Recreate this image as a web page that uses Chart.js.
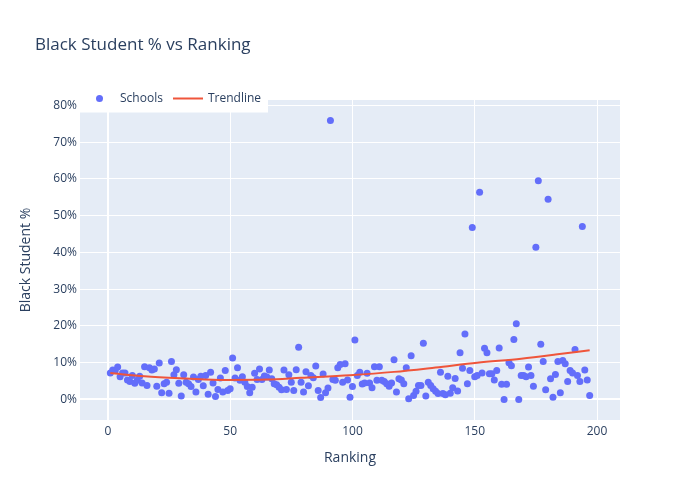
<!DOCTYPE html>
<html lang="en">

<head>
    <meta charset="UTF-8">
    <title>Black Student % vs Ranking</title>
    <script src="https://cdn.jsdelivr.net/npm/chart.js@4.4.1/dist/chart.umd.min.js"></script>
    <style>
        body { margin: 0; background: #ffffff; }
        #grafico { display: block; }
    </style>
</head>

<body>
    <canvas id="grafico" width="700" height="500"></canvas>

<script>
    // Ranking of each school (x) and its share of Black students in % (y)
    var ranking = [
        1, 2, 3, 4, 5, 6, 7, 8, 9, 10, 11, 12, 13, 14, 15, 16, 17, 18, 19, 20,
        21, 22, 23, 24, 25, 26, 27, 28, 29, 30, 31, 32, 33, 34, 35, 36, 37, 38, 39, 40,
        41, 42, 43, 44, 45, 46, 47, 48, 49, 50, 51, 52, 53, 54, 55, 56, 57, 58, 59, 60,
        61, 62, 63, 64, 65, 66, 67, 68, 69, 70, 71, 72, 73, 74, 75, 76, 77, 78, 79, 80,
        81, 82, 83, 84, 85, 86, 87, 88, 89, 90, 91, 92, 93, 94, 95, 96, 97, 98, 99, 100,
        101, 102, 103, 104, 105, 106, 107, 108, 109, 110, 111, 112, 113, 114, 115, 116, 117, 118, 119, 120,
        121, 122, 123, 124, 125, 126, 127, 128, 129, 130, 131, 132, 133, 134, 135, 136, 137, 138, 139, 140,
        141, 142, 143, 144, 145, 146, 147, 148, 149, 150, 151, 152, 153, 154, 155, 156, 157, 158, 159, 160,
        161, 162, 163, 164, 165, 166, 167, 168, 169, 170, 171, 172, 173, 174, 175, 176, 177, 178, 179, 180,
        181, 182, 183, 184, 185, 186, 187, 188, 189, 190, 191, 192, 193, 194, 195, 196, 197
    ]
    var blackPct = [
        7.2, 8.0, 7.9, 8.8, 6.2, 7.2, 7.2, 5.3, 4.9, 6.5, 4.4, 5.2, 6.3, 4.5, 8.9, 3.8, 8.6, 8.0, 8.3, 3.6,
        9.9, 1.8, 4.3, 4.7, 1.7, 10.3, 6.7, 8.1, 4.4, 0.9, 6.7, 4.7, 4.3, 3.5, 6.1, 2.0, 5.4, 6.3, 3.7, 6.5,
        1.4, 7.4, 4.5, 0.8, 2.7, 5.8, 2.0, 7.9, 2.4, 2.9, 11.3, 5.8, 8.6, 5.2, 6.2, 4.7, 3.5, 1.8, 3.3, 7.1,
        5.4, 8.3, 5.4, 6.4, 6.1, 8.0, 5.6, 4.3, 4.0, 3.3, 2.6, 8.0, 2.7, 6.7, 4.7, 2.4, 8.1, 14.2, 4.7, 2.0,
        7.5, 3.7, 6.5, 5.9, 9.1, 2.4, 0.5, 6.9, 1.8, 3.1, 75.9, 5.4, 5.2, 8.6, 9.5, 4.7, 9.7, 5.3, 0.6, 3.5,
        16.2, 6.5, 7.4, 4.2, 4.5, 7.1, 4.5, 3.2, 8.9, 5.2, 8.9, 5.2, 4.9, 4.3, 3.6, 4.5, 10.8, 2.0, 5.6, 5.3,
        4.3, 8.6, 0.2, 11.9, 1.1, 2.2, 3.8, 3.8, 15.3, 0.9, 4.7, 3.8, 2.9, 2.2, 1.6, 7.4, 1.6, 1.3, 6.3, 1.7,
        3.2, 5.7, 2.3, 12.7, 8.5, 17.8, 4.3, 7.9, 46.8, 6.2, 6.5, 56.4, 7.2, 13.9, 12.7, 7.0, 7.0, 5.3, 7.9, 14.0,
        4.1, 0.0, 4.1, 10.0, 9.2, 16.3, 20.6, 0.0, 6.5, 6.5, 6.2, 8.8, 6.5, 3.6, 41.4, 59.5, 15.0, 10.3, 2.6, 54.5,
        5.6, 0.6, 6.8, 10.3, 1.8, 10.6, 9.7, 4.9, 7.9, 7.2, 13.6, 6.5, 4.9, 47.1, 8.0, 5.3, 1.1
    ]

    // Trendline
    var trendRank = [1, 15, 32, 48, 65, 79, 99, 117, 134, 151, 169, 183, 197]
    var trendPct = [7.2, 6.3, 5.7, 5.3, 5.4, 5.9, 6.6, 7.5, 8.7, 10.0, 11.1, 12.2, 13.4]

    var xTicks = [0, 50, 100, 150, 200]
    var yTicks = [0, 10, 20, 30, 40, 50, 60, 70, 80]

    var fonte = '"Open Sans", verdana, arial, sans-serif'
    var corTexto = '#2a3f5f'

    var pontos = ranking.map(function (r, i) { return { x: r, y: blackPct[i] } })
    var tendencia = trendRank.map(function (r, i) { return { x: r, y: trendPct[i] } })

    // plot background, title and legend like the plotly original
    const fundoPlugin = {
        id: 'fundo',
        beforeDraw(chart) {
            const ctx = chart.ctx
            const a = chart.chartArea
            ctx.save()
            ctx.fillStyle = '#E5ECF6'
            ctx.fillRect(a.left, a.top, a.right - a.left, a.bottom - a.top)
            ctx.restore()
        },
        afterDraw(chart) {
            const ctx = chart.ctx
            ctx.save()
            // title
            ctx.fillStyle = corTexto
            ctx.font = '17px ' + fonte
            ctx.textBaseline = 'middle'
            ctx.textAlign = 'left'
            ctx.fillText('Black Student % vs Ranking', 35, 45)

            // legend
            ctx.fillStyle = '#ffffff'
            ctx.fillRect(80, 86, 188, 26.5)
            ctx.fillStyle = '#636efa'
            ctx.beginPath()
            ctx.arc(99.5, 98.5, 3.5, 0, Math.PI * 2)
            ctx.fill()
            ctx.strokeStyle = '#EF553B'
            ctx.lineWidth = 2
            ctx.beginPath()
            ctx.moveTo(173, 98.5)
            ctx.lineTo(203, 98.5)
            ctx.stroke()
            ctx.fillStyle = corTexto
            ctx.font = '12px ' + fonte
            ctx.fillText('Schools', 120, 99)
            ctx.fillText('Trendline', 208, 99)
            ctx.restore()
        }
    }

    const config = {
        type: 'scatter',
        data: {
            datasets: [{
                label: 'Schools',
                data: pontos,
                backgroundColor: '#636efa',
                borderWidth: 0,
                pointRadius: 3.5,
                pointHoverRadius: 3.5,
                order: 1
            }, {
                label: 'Trendline',
                data: tendencia,
                showLine: true,
                borderColor: '#EF553B',
                borderWidth: 2,
                pointRadius: 0,
                pointHoverRadius: 0,
                cubicInterpolationMode: 'monotone',
                order: 0
            }]
        },
        options: {
            responsive: false,
            animation: false,
            devicePixelRatio: 1,
            layout: {
                padding: { left: 0, right: 80, top: 100, bottom: 0 }
            },
            plugins: {
                legend: { display: false },
                tooltip: { enabled: false }
            },
            scales: {
                x: {
                    type: 'linear',
                    min: -11.4,
                    max: 209.4,
                    afterBuildTicks: function (scale) {
                        scale.ticks = xTicks.map(function (v) { return { value: v } })
                    },
                    afterFit: function (scale) { scale.height = 80 },
                    grid: {
                        color: '#ffffff',
                        lineWidth: function (c) { return c.tick && c.tick.value === 0 ? 2 : 1 },
                        drawTicks: false
                    },
                    border: { display: false },
                    ticks: {
                        padding: 4,
                        color: corTexto,
                        font: { family: fonte, size: 12 },
                        maxRotation: 0
                    },
                    title: {
                        display: true,
                        text: 'Ranking',
                        color: corTexto,
                        font: { family: fonte, size: 14 },
                        padding: { top: 0, bottom: 34 }
                    }
                },
                y: {
                    type: 'linear',
                    min: -5.6,
                    max: 81.5,
                    afterBuildTicks: function (scale) {
                        scale.ticks = yTicks.map(function (v) { return { value: v } })
                    },
                    afterFit: function (scale) { scale.width = 80 },
                    grid: {
                        color: '#ffffff',
                        lineWidth: function (c) { return c.tick && c.tick.value === 0 ? 2 : 1 },
                        drawTicks: false
                    },
                    border: { display: false },
                    ticks: {
                        padding: 3,
                        color: corTexto,
                        font: { family: fonte, size: 12 },
                        callback: function (v) { return v + '%' }
                    },
                    title: {
                        display: true,
                        text: 'Black Student %',
                        color: corTexto,
                        font: { family: fonte, size: 14 },
                        padding: { top: 18, bottom: 0 }
                    }
                }
            }
        },
        plugins: [fundoPlugin]
    }

    const grafico = new Chart(document.getElementById('grafico'), config)
</script>
</body>

</html>
